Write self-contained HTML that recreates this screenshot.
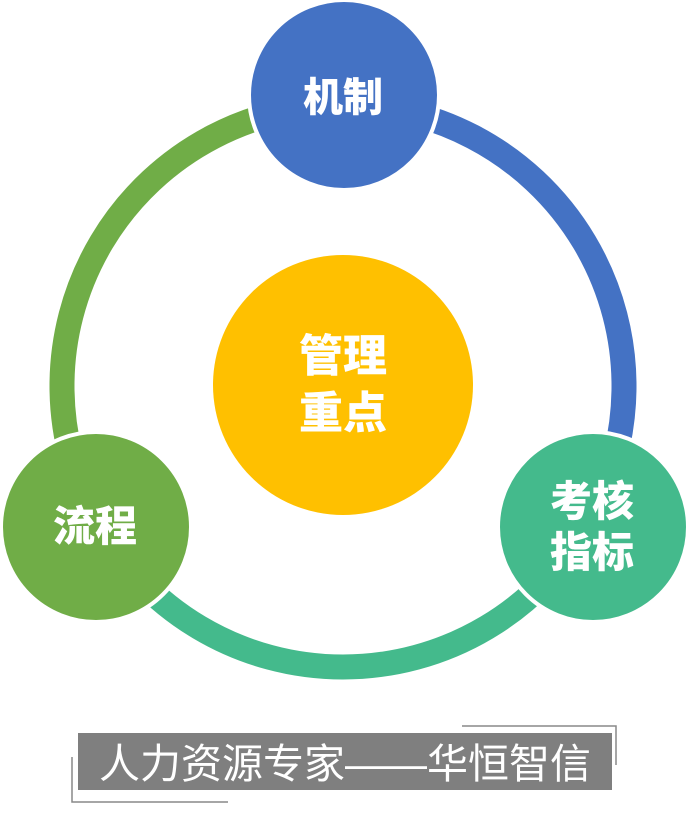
<!DOCTYPE html>
<html><head><meta charset="utf-8"><style>
body{margin:0;background:#fff;width:689px;height:808px;overflow:hidden}
svg text{font-family:"Liberation Sans","Noto Sans CJK SC",sans-serif;font-weight:900;fill:#fff;text-anchor:middle}
</style></head><body>
<svg width="689" height="808" viewBox="0 0 689 808">
<g fill="none" stroke-width="25">
<path d="M343 105 A281 281 0 0 1 590 520" stroke="#4472C4"/>
<path d="M590 520 A281 281 0 0 1 96 520" stroke="#44BA8C"/>
<path d="M96 520 A281 281 0 0 1 343 105" stroke="#70AD47"/>
</g>
<circle cx="343" cy="385" r="130" fill="#FFC000"/>
<circle cx="344" cy="95" r="95" fill="#4472C4" stroke="#fff" stroke-width="4"/>
<circle cx="593" cy="527" r="95" fill="#44BA8C" stroke="#fff" stroke-width="4"/>
<circle cx="96" cy="527" r="95" fill="#70AD47" stroke="#fff" stroke-width="4"/>
<text x="343" y="111" font-size="40">机制</text>
<text x="343" y="371" font-size="44">管理</text>
<text x="343" y="428" font-size="44">重点</text>
<text x="592" y="516" font-size="42">考核</text>
<text x="592" y="567" font-size="42">指标</text>
<text x="95" y="541" font-size="42">流程</text>
<rect x="78" y="733" width="534" height="57" fill="#7F7F7F"/>
<polyline points="462,726 616,726 616,765" fill="none" stroke="#888" stroke-width="1.5"/>
<polyline points="72,757 72,802 228,802" fill="none" stroke="#888" stroke-width="1.5"/>
<text x="345" y="778" font-size="41" style="font-weight:normal">人力资源专家——华恒智信</text>
</svg>
</body></html>
